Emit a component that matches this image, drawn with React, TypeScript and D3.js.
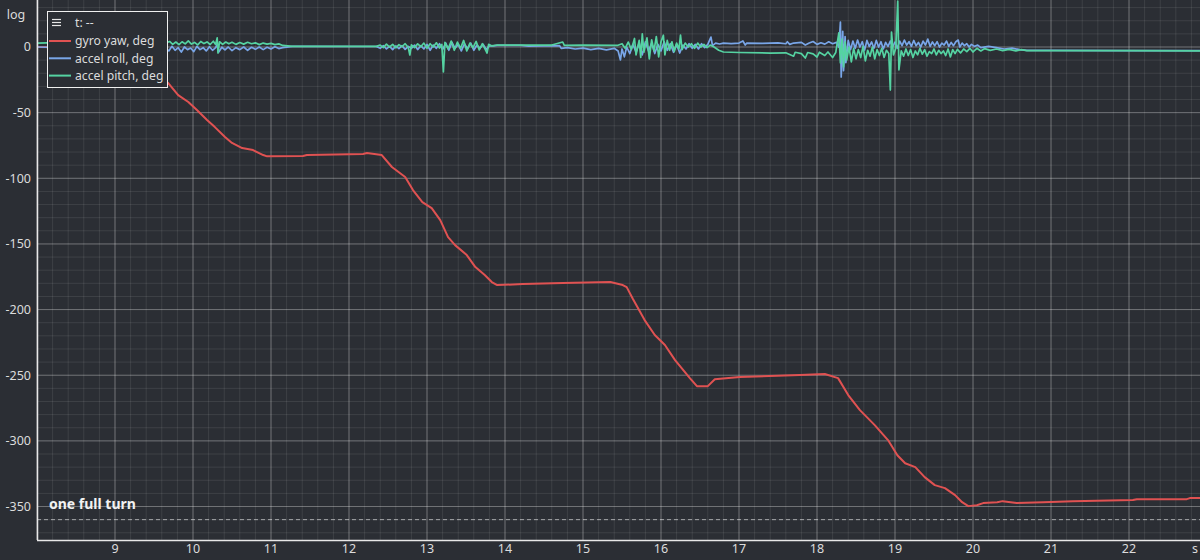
import React from "react";
import * as d3 from "d3";

const W = 1200;
const H = 560;

const xTicks = [9, 10, 11, 12, 13, 14, 15, 16, 17, 18, 19, 20, 21, 22];
const yTicks = [0, -50, -100, -150, -200, -250, -300, -350];
const xUnit = "s";
const yUnit = "log";
const seriesNames = ["gyro yaw, deg", "accel roll, deg", "accel pitch, deg"];
const seriesColors = ["#e05252", "#79a6e8", "#55d3a2"];
const fullTurn = -360;
const fullTurnLabel = "one full turn";

const yawData: [number, number][] = [
  [8.0, 0], [9.06, -0.8], [9.32, -8.4], [9.68, -27.4], [9.81, -36.6], [9.94, -41.9],
  [10.05, -48.0], [10.18, -55.6], [10.28, -61.0], [10.41, -68.6], [10.5, -73.1],
  [10.63, -77.0], [10.77, -78.5], [10.9, -82.3], [10.95, -83.3], [11.41, -83.0],
  [11.46, -82.3], [12.18, -81.5], [12.23, -80.8], [12.42, -82.3], [12.55, -91.4],
  [12.72, -99.0], [12.82, -109.0], [12.94, -118.1], [13.06, -122.7], [13.17, -131.8],
  [13.27, -144.8], [13.36, -150.9], [13.51, -158.5], [13.62, -167.6], [13.74, -173.7],
  [13.83, -179.0], [13.9, -181.3], [14.23, -180.6], [14.74, -179.8], [15.35, -179.0],
  [15.51, -181.3], [15.56, -182.9], [15.64, -192.0], [15.79, -208.0], [15.92, -219.4],
  [16.05, -227.0], [16.18, -238.5], [16.37, -252.2], [16.46, -258.3], [16.6, -258.3],
  [16.69, -253.0], [17.01, -251.4], [17.78, -249.9], [18.1, -249.1], [18.27, -252.2],
  [18.4, -265.1], [18.55, -276.6], [18.74, -288.0], [18.91, -299.4], [19.03, -310.9],
  [19.13, -317.0], [19.26, -320.0], [19.38, -327.6], [19.51, -333.7], [19.64, -336.0],
  [19.77, -341.3], [19.86, -346.7], [19.94, -349.7], [20.05, -349.0], [20.13, -347.4],
  [20.31, -346.7], [20.38, -345.9], [20.56, -347.4], [20.9, -346.7], [21.28, -345.9],
  [22.05, -345.1], [22.1, -344.4], [22.74, -344.4], [22.78, -343.6], [22.91, -343.6],
];

const rollData: [number, number][] = [
  [8.0, 0.0], [8.4, -0.6], [8.8, 0.2], [9.2, -0.8], [9.65, -1.0], [9.69, -3.0], [9.73, 0.5],
  [9.77, -2.5], [9.81, -0.5], [9.85, -3.8], [9.89, 0.0], [9.93, -2.0], [9.97, -0.8],
  [10.01, -3.5], [10.05, 0.5], [10.09, -2.0], [10.13, -0.5], [10.17, -3.0], [10.21, 0.2],
  [10.25, -2.5], [10.29, -0.5], [10.31, 2.0], [10.33, -3.8], [10.37, -0.2], [10.41, -2.2],
  [10.45, 0.0], [10.5, -2.8], [10.55, -0.5], [10.6, -2.0], [10.65, 0.0], [10.7, -2.5],
  [10.75, -0.2], [10.8, -1.8], [10.85, 0.0], [10.9, -2.0], [10.95, -0.2], [11.0, -1.5],
  [11.05, 0.2], [11.1, -1.2], [11.15, -0.5], [11.28, 0.5], [12.35, 0.4], [12.4, -1.0],
  [12.44, 1.0], [12.48, -1.5], [12.52, 0.5], [12.56, -2.0], [12.6, 0.8], [12.64, -1.2],
  [12.68, 1.0], [12.72, -1.8], [12.76, 0.5], [12.8, -1.0], [12.84, 1.5], [12.88, -2.0],
  [12.92, 1.0], [12.96, -1.5], [13.0, 2.0], [13.04, -2.5], [13.08, 1.5], [13.12, -1.0],
  [13.16, 2.5], [13.2, -2.0], [13.24, 3.0], [13.28, -2.5], [13.32, 3.5], [13.36, -1.0],
  [13.4, 2.0], [13.44, -3.0], [13.48, 2.5], [13.52, -1.5], [13.56, 3.0], [13.6, -2.5],
  [13.64, 1.5], [13.68, -1.0], [13.72, 2.0], [13.76, -2.0], [13.8, 1.0], [13.85, 0.8],
  [13.9, 1.2], [14.2, 1.2], [14.3, 0.6], [14.7, 1.0], [14.72, -1.0], [14.8, -0.5],
  [14.9, -1.5], [15.0, -0.8], [15.1, -2.0], [15.2, -1.0], [15.3, -2.2], [15.4, -1.0],
  [15.45, -3.0], [15.48, -9.9], [15.5, -1.5], [15.53, -7.5], [15.56, 0.0], [15.6, -5.0],
  [15.64, 2.0], [15.68, -4.0], [15.72, 3.0], [15.76, -6.0], [15.8, 4.0], [15.84, -3.0],
  [15.88, 3.0], [15.92, -5.0], [15.96, 2.0], [16.0, -3.0], [16.04, 4.0], [16.08, -2.5],
  [16.12, 2.5], [16.16, -4.0], [16.2, 2.0], [16.24, -4.6], [16.28, 1.5], [16.32, -1.5],
  [16.36, 2.5], [16.4, -1.0], [16.44, 2.0], [16.48, -1.5], [16.52, 2.5], [16.56, -0.5],
  [16.6, 2.0], [16.64, 7.6], [16.66, 1.0], [16.7, 3.0], [16.75, 2.3], [16.8, 3.0],
  [16.9, 2.5], [17.0, 3.0], [17.05, 4.6], [17.08, 1.5], [17.1, 3.0], [17.3, 2.8],
  [17.5, 3.2], [17.6, 2.5], [17.62, 4.0], [17.65, 2.0], [17.7, 3.0], [17.8, 3.5],
  [17.85, 1.5], [17.9, 3.0], [17.95, 4.2], [18.0, 2.0], [18.05, 3.2], [18.1, 2.2],
  [18.15, 4.0], [18.2, 2.5], [18.25, 3.5], [18.28, 0.0], [18.3, 19.0], [18.31, -22.9],
  [18.33, 12.0], [18.34, -18.0], [18.36, 8.0], [18.37, -12.0], [18.4, 5.0], [18.43, -2.0],
  [18.46, 4.5], [18.49, -1.0], [18.52, 5.3], [18.55, 0.0], [18.58, 4.0], [18.61, -2.3],
  [18.64, 5.0], [18.67, 0.5], [18.7, 3.8], [18.73, -1.0], [18.76, 5.0], [18.79, 0.0],
  [18.82, 4.0], [18.85, -1.5], [18.88, 3.5], [18.91, 0.5], [18.94, 4.5], [18.97, 0.0],
  [19.0, 3.8], [19.03, -1.0], [19.06, 4.5], [19.09, 1.0], [19.12, 5.3], [19.15, 1.5],
  [19.18, 4.0], [19.21, 0.5], [19.24, 5.0], [19.27, 1.0], [19.3, 3.5], [19.33, 0.0],
  [19.36, 4.5], [19.39, 1.5], [19.42, 6.0], [19.45, 0.5], [19.48, 3.8], [19.51, 1.0],
  [19.54, 4.0], [19.57, 0.0], [19.6, 3.0], [19.63, 1.5], [19.66, 4.5], [19.69, 0.5],
  [19.72, 3.5], [19.75, 1.0], [19.78, 4.0], [19.81, 5.3], [19.83, 0.0], [19.86, 3.0],
  [19.89, 1.0], [19.92, 2.5], [19.95, 0.0], [19.98, 2.0], [20.02, 0.5], [20.06, 1.5],
  [20.1, -0.5], [20.2, 0.5], [20.3, -0.5], [20.4, -1.5], [20.5, -0.8], [20.6, -2.0],
  [20.69, -2.5], [21.0, -2.6], [22.0, -2.7], [22.91, -2.8],
];

const pitchData: [number, number][] = [
  [8.0, 3.0], [8.4, 3.5], [8.8, 2.6], [9.2, 3.4], [9.65, 3.0], [9.7, 4.2], [9.74, 2.0],
  [9.78, 3.8], [9.82, 1.8], [9.86, 4.0], [9.9, 2.4], [9.94, 4.6], [9.98, 2.2], [10.02, 3.5],
  [10.06, 1.6], [10.1, 4.2], [10.14, 2.6], [10.18, 3.9], [10.22, 1.9], [10.26, 4.4],
  [10.29, 2.0], [10.31, 6.9], [10.32, -4.6], [10.34, 4.0], [10.38, 2.0], [10.42, 3.8],
  [10.46, 2.4], [10.5, 3.6], [10.55, 2.0], [10.6, 3.4], [10.65, 2.2], [10.7, 3.6],
  [10.75, 2.5], [10.8, 3.2], [10.85, 1.8], [10.9, 3.0], [10.95, 2.2], [11.0, 2.8],
  [11.05, 1.8], [11.1, 2.4], [11.15, 1.2], [11.28, 0.5], [12.35, 0.5], [12.4, 1.5],
  [12.44, -0.5], [12.48, 2.2], [12.52, 0.0], [12.56, 2.0], [12.6, -0.6], [12.64, 1.8],
  [12.68, 0.2], [12.72, 2.5], [12.76, -0.4], [12.78, -6.1], [12.8, 1.6], [12.84, -0.5],
  [12.88, 2.4], [12.92, 0.2], [12.96, 3.0], [13.0, -1.0], [13.04, 2.5], [13.08, 0.0],
  [13.12, 3.2], [13.16, -0.8], [13.19, 2.0], [13.21, -19.0], [13.23, 3.5], [13.27, -1.5],
  [13.31, 4.5], [13.35, -2.5], [13.39, 3.8], [13.43, -1.0], [13.47, 5.0], [13.51, -3.0],
  [13.55, 3.0], [13.59, -0.5], [13.63, 4.2], [13.67, -2.2], [13.71, 2.5], [13.74, -1.0],
  [13.77, -4.6], [13.79, 2.0], [13.83, 0.8], [13.9, 1.5], [14.3, 1.5], [14.6, 1.5],
  [14.74, 3.8], [14.76, 1.2], [15.0, 1.5], [15.44, 1.2], [15.5, 2.5], [15.54, -1.0],
  [15.58, 3.8], [15.62, -2.0], [15.66, 6.5], [15.68, -6.0], [15.72, 5.0], [15.74, -8.0],
  [15.76, 10.0], [15.78, -4.0], [15.82, 7.0], [15.85, -9.0], [15.88, 5.5], [15.91, -3.0],
  [15.94, 8.0], [15.97, -7.5], [16.0, 4.0], [16.03, 9.0], [16.05, -6.0], [16.08, 5.0],
  [16.11, -2.5], [16.14, 4.0], [16.17, -3.5], [16.2, 3.0], [16.23, -1.5], [16.25, 9.0],
  [16.27, -2.0], [16.31, 3.0], [16.35, 0.0], [16.39, 2.5], [16.43, -1.0], [16.47, 3.0],
  [16.51, 0.0], [16.55, 2.0], [16.59, -0.5], [16.63, 1.5], [16.68, 0.0], [16.74, -2.5],
  [16.8, -3.8], [17.0, -4.2], [17.4, -4.6], [17.6, -4.4], [17.7, -7.0], [17.72, -4.0],
  [17.8, -5.0], [17.85, -8.4], [17.88, -4.2], [17.95, -5.2], [18.0, -7.6], [18.03, -4.0],
  [18.1, -6.5], [18.14, -3.8], [18.2, -8.0], [18.24, -4.2], [18.28, 10.7], [18.3, -12.2],
  [18.32, 6.0], [18.34, -15.2], [18.36, 4.0], [18.38, -10.0], [18.41, 0.0], [18.44, -11.4],
  [18.47, -1.0], [18.5, -9.0], [18.53, -2.0], [18.56, -8.0], [18.59, 0.5], [18.62, -10.5],
  [18.65, -2.5], [18.68, -7.0], [18.71, 0.0], [18.74, -9.0], [18.77, -2.0], [18.8, -6.5],
  [18.83, -1.0], [18.86, -8.0], [18.89, -2.5], [18.92, -5.0], [18.94, -32.8], [18.955, 11.4],
  [18.98, -6.0], [19.01, -1.0], [19.035, 35.0], [19.05, -17.5], [19.08, -3.0], [19.11, -7.0],
  [19.14, -1.5], [19.17, -6.5], [19.2, -2.0], [19.23, -8.0], [19.26, -3.0], [19.29, -6.0],
  [19.32, -1.0], [19.35, -5.5], [19.38, -2.0], [19.41, -7.0], [19.44, -3.5], [19.47, -5.0],
  [19.5, -1.5], [19.53, -6.0], [19.56, -2.5], [19.59, -5.0], [19.62, -3.0], [19.65, -6.5],
  [19.68, -1.5], [19.71, -7.6], [19.74, -2.0], [19.77, -5.0], [19.8, -1.8], [19.84, -4.5],
  [19.88, -1.5], [19.92, -3.5], [19.96, -1.0], [20.0, -3.8], [20.05, -1.0], [20.1, -3.0],
  [20.15, -1.2], [20.22, -2.6], [20.3, -1.5], [20.38, -2.8], [20.46, -1.8], [20.55, -3.0],
  [20.62, -2.0], [20.69, -2.8], [21.0, -2.8], [22.0, -2.8], [22.91, -2.9],
];

const seriesData = [yawData, rollData, pitchData];

export default function App() {
  const left = 37;
  const right = W;
  const top = 0;
  const bottom = 540;
  const x = d3.scaleLinear().domain([8, 22.91]).range([left, right]);
  const y = d3.scaleLinear().domain([-375.5, 35.8]).range([bottom, top]);

  const minorX = d3.range(8, 22.91, 0.2);
  const minorY = d3.range(-370, 35, 10);
  const majorX = d3.range(8, 23, 1);
  const majorY = d3.range(-350, 35, 50);

  const line = d3
    .line<[number, number]>()
    .x((d) => x(d[0]))
    .y((d) => y(d[1]));

  const font = "'Noto Sans', 'Open Sans', sans-serif";
  const textColor = "#dcdcdc";

  return (
    <svg
      width={W}
      height={H}
      style={{ position: "absolute", left: 0, top: 0, display: "block" }}
      fontFamily={font}
    >
      <defs>
        <clipPath id="plotclip">
          <rect x={left} y={top} width={right - left} height={bottom - top} />
        </clipPath>
      </defs>
      <rect x={0} y={0} width={W} height={H} fill="#2b2e34" />
      <g>
        {minorX.map((v, i) => (
          <line key={"mx" + i} x1={x(v)} x2={x(v)} y1={top} y2={bottom} stroke="rgba(255,255,255,0.09)" strokeWidth={1} />
        ))}
        {minorY.map((v, i) => (
          <line key={"my" + i} x1={left} x2={right} y1={y(v)} y2={y(v)} stroke="rgba(255,255,255,0.09)" strokeWidth={1} />
        ))}
        {majorX.map((v, i) => (
          <line key={"Mx" + i} x1={x(v)} x2={x(v)} y1={top} y2={bottom} stroke="rgba(255,255,255,0.27)" strokeWidth={1} />
        ))}
        {majorY.map((v, i) => (
          <line key={"My" + i} x1={left} x2={right} y1={y(v)} y2={y(v)} stroke="rgba(255,255,255,0.27)" strokeWidth={1} />
        ))}
      </g>
      <line x1={left} x2={right} y1={y(fullTurn)} y2={y(fullTurn)} stroke="rgba(255,255,255,0.55)" strokeWidth={1} strokeDasharray="4,3" />
      <g clipPath="url(#plotclip)">
        {seriesData.map((d, i) => (
          <path
            key={"s" + i}
            d={line(d) || ""}
            fill="none"
            stroke={seriesColors[i]}
            strokeWidth={i === 0 ? 2 : 1.7}
            strokeLinejoin="round"
          />
        ))}
      </g>
      <line x1={left + 0.5} x2={left + 0.5} y1={top} y2={bottom} stroke="#e8e8e8" strokeWidth={1.5} />
      <line x1={left} x2={right} y1={bottom + 0.5} y2={bottom + 0.5} stroke="#e8e8e8" strokeWidth={1.5} />
      {yTicks.map((v) => (
        <text key={"yt" + v} x={31} y={y(v)} dy="0.35em" textAnchor="end" fontSize={12.5} fill={textColor}>
          {v}
        </text>
      ))}
      <text x={16} y={15} dy="0.35em" textAnchor="middle" fontSize={12.5} fill={textColor}>
        {yUnit}
      </text>
      {xTicks.map((v) => (
        <text key={"xt" + v} x={x(v)} y={549} dy="0.35em" textAnchor="middle" fontSize={12.5} fill={textColor}>
          {v}
        </text>
      ))}
      <text x={1195} y={549} dy="0.35em" textAnchor="middle" fontSize={12.5} fill={textColor}>
        {xUnit}
      </text>
      <text x={49} y={504} dy="0.35em" fontSize={14} fontWeight="bold" fill="#f2f2f2">
        {fullTurnLabel}
      </text>
      <g>
        <rect x={47.5} y={11.5} width={120} height={76} fill="#2b2e34" stroke="#f0f0f0" strokeWidth={1} />
        <g stroke="#e8e8e8" strokeWidth={1.2}>
          <line x1={52} x2={61} y1={19.5} y2={19.5} />
          <line x1={52} x2={61} y1={22.5} y2={22.5} />
          <line x1={52} x2={61} y1={25.5} y2={25.5} />
        </g>
        <text x={75} y={23} dy="0.35em" fontSize={12.2} fill={textColor}>
          t: --
        </text>
        {seriesNames.map((n, i) => (
          <g key={"lg" + i}>
            <line x1={49} x2={71} y1={41 + i * 17.3} y2={41 + i * 17.3} stroke={seriesColors[i]} strokeWidth={2} />
            <text x={75} y={41 + i * 17.3} dy="0.35em" fontSize={12.2} fill={textColor}>
              {n}
            </text>
          </g>
        ))}
      </g>
    </svg>
  );
}
